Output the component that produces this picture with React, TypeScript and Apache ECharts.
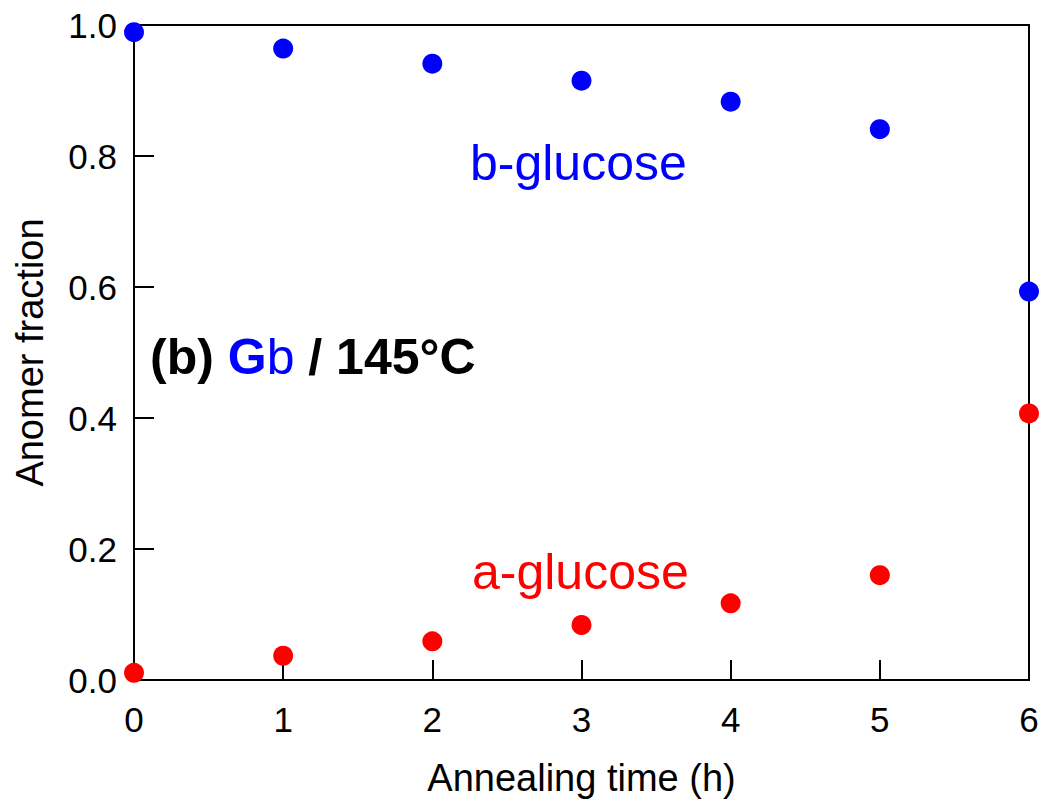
import React, { useEffect, useRef } from "react";
import * as echarts from "echarts";

const timesH = [0, 1, 2, 3, 4, 5, 6];
const betaFraction = [0.989, 0.964, 0.941, 0.915, 0.883, 0.841, 0.593];
const alphaFraction = [0.011, 0.037, 0.059, 0.084, 0.117, 0.16, 0.407];
const xTicks = [0, 1, 2, 3, 4, 5, 6];
const yTicks = [0, 0.2, 0.4, 0.6, 0.8, 1.0];

const FONT = "Liberation Sans, Arial, sans-serif";

export default function App() {
  const ref = useRef<HTMLDivElement>(null);
  useEffect(() => {
    if (!ref.current) return;
    const chart = echarts.init(ref.current, null, { renderer: "svg" });
    const axisLine = { show: true, lineStyle: { color: "#000", width: 2 } };
    chart.setOption({
      animation: false,
      backgroundColor: "#fff",
      textStyle: { fontFamily: FONT },
      grid: {
        left: 134,
        right: 13,
        top: 25,
        bottom: 124,
        show: true,
        borderColor: "#000",
        borderWidth: 2,
        backgroundColor: "transparent",
      },
      xAxis: {
        type: "value",
        min: 0,
        max: 6,
        interval: 1,
        name: "Annealing time (h)",
        nameLocation: "middle",
        nameGap: 79,
        nameTextStyle: { fontSize: 38, color: "#000", fontFamily: FONT },
        axisLine,
        axisTick: { show: true, inside: true, length: 20, lineStyle: { color: "#000", width: 2 } },
        axisLabel: {
          fontSize: 35,
          color: "#000",
          margin: 22,
          fontFamily: FONT,
          formatter: (v: number) => (xTicks.includes(v) ? String(v) : ""),
        },
        splitLine: { show: false },
      },
      yAxis: {
        type: "value",
        min: 0,
        max: 1,
        interval: 0.2,
        name: "Anomer fraction",
        nameLocation: "middle",
        nameGap: 85,
        nameTextStyle: { fontSize: 38, color: "#000", fontFamily: FONT },
        axisLine,
        axisTick: { show: true, inside: true, length: 20, lineStyle: { color: "#000", width: 2 } },
        axisLabel: {
          fontSize: 35,
          color: "#000",
          margin: 17,
          fontFamily: FONT,
          formatter: (v: number) => {
            const t = yTicks.find((y) => Math.abs(y - v) < 1e-6);
            return t === undefined ? "" : t.toFixed(1);
          },
        },
        splitLine: { show: false },
      },
      series: [
        {
          name: "b-glucose",
          type: "scatter",
          symbol: "circle",
          symbolSize: 20,
          itemStyle: { color: "#0000FF", opacity: 1 },
          data: timesH.map((t, i) => [t, betaFraction[i]]),
          clip: false,
          z: 5,
        },
        {
          name: "a-glucose",
          type: "scatter",
          symbol: "circle",
          symbolSize: 20,
          itemStyle: { color: "#FF0000", opacity: 1 },
          data: timesH.map((t, i) => [t, alphaFraction[i]]),
          clip: false,
          z: 5,
        },
      ],
      graphic: [
        {
          type: "text",
          left: 470,
          top: 138,
          style: {
            text: "{t|b-glucose}",
            rich: { t: { fontSize: 50, fill: "#0000FF", fontFamily: FONT } },
          },
        },
        {
          type: "text",
          left: 472,
          top: 547,
          style: {
            text: "{t|a-glucose}",
            rich: { t: { fontSize: 50, fill: "#FF0000", fontFamily: FONT } },
          },
        },
        {
          type: "text",
          left: 150,
          top: 332,
          style: {
            text: "{k|(b) }{bg|G}{br|b}{k| / 145°C}",
            rich: {
              k: { fontSize: 50, fontWeight: "bold", fill: "#000", fontFamily: FONT },
              bg: { fontSize: 50, fontWeight: "bold", fill: "#0000FF", fontFamily: FONT },
              br: { fontSize: 50, fontWeight: "normal", fill: "#0000FF", fontFamily: FONT },
            },
          },
        },
      ],
    });
    return () => chart.dispose();
  }, []);
  return <div ref={ref} style={{ width: 1042, height: 804, position: "absolute", left: 0, top: 0 }} />;
}
